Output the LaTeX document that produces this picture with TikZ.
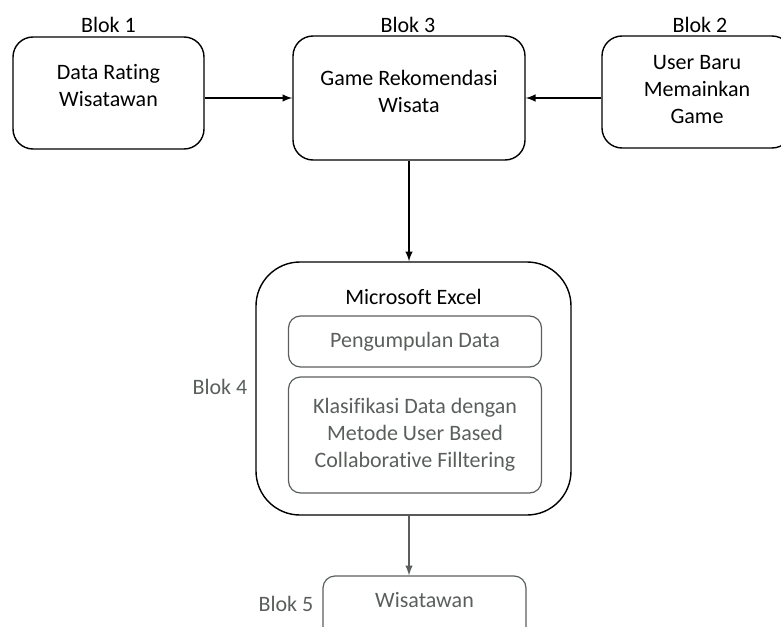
\documentclass[tikz,border=0pt]{standalone}
\usepackage{fontspec}
\setmainfont[Ligatures={NoCommon,NoRare}]{Carlito}
\usepackage{xcolor}
\usetikzlibrary{calc,positioning,arrows}
\definecolor{softgray}{HTML}{5A5F5C}
\begin{document}
\begin{tikzpicture}[x=0.5pt,y=-0.5pt,
	box/.style={draw,line width=0.7pt,rounded corners=10pt,inner sep=0pt},
	inbox/.style={draw=softgray,line width=0.6pt,rounded corners=6pt,inner sep=0pt},
	txt/.style={align=center,font=\fontsize{11}{13.5}\selectfont},
	arr/.style={-latex,line width=0.7pt}]
	\clip (0,0) rectangle (781,626);
	% blok atas
	\node[box,minimum width=95.5pt,minimum height=56pt] (b1) at (108.5,93) {};
	\node[box,minimum width=116pt,minimum height=62pt] (b3) at (409,98) {};
	\node[box,minimum width=95pt,minimum height=56pt] (b2) at (697,92) {};
	\node[txt] (t1) at (108.5,86) {Data Rating\\Wisatawan};
	\node[txt] (t3) at (409,91.5) {Game Rekomendasi\\Wisata};
	\node[txt] (t2) at (697,90) {User Baru\\Memainkan\\Game};
	\node[txt] (l1) at (108.5,25) {Blok 1};
	\node[txt] (l3) at (408,25) {Blok 3};
	\node[txt] (l2) at (700,25) {Blok 2};
	% blok 4
	\node[box,rounded corners=22pt,minimum width=157.5pt,minimum height=126.5pt] (xl) at (413.5,388.5) {};
	\node[txt] (tx) at (413.5,297) {Microsoft Excel};
	\node[inbox,minimum width=126.5pt,minimum height=25.5pt,txt,text=softgray] (pd) at (415,341.5) {Pengumpulan Data};
	\node[inbox,minimum width=126.5pt,minimum height=58pt,txt,text=softgray] (kd) at (415,435) {Klasifikasi Data dengan\\Metode User Based\\Collaborative Filltering};
	\node[txt,text=softgray] (l4) at (220,387) {Blok 4};
	% blok 5
	\node[inbox,minimum width=101.5pt,minimum height=32pt] (w5) at (424.5,608) {};
	\node[txt,text=softgray] (tw) at (424.5,600) {Wisatawan};
	\node[txt,text=softgray] (l5) at (286,604) {Blok 5};
	% panah
	\draw[arr] (b1.east |- b3.west) -- (b3.west);
	\draw[arr] (b2.west |- b3.east) -- (b3.east);
	\draw[arr] (b3.south) -- (b3.south |- xl.north);
	\draw[arr,draw=softgray,fill=softgray] (b3.south |- xl.south) -- (b3.south |- w5.north);
\end{tikzpicture}
\end{document}
